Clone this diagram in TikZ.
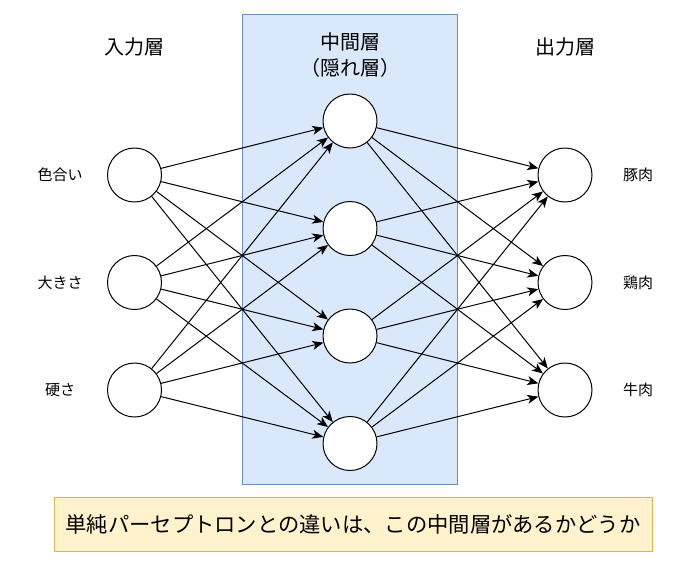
\documentclass[tikz,border=0pt]{standalone}
\usepackage{fontspec}
\setmainfont{Noto Sans CJK JP}
\usetikzlibrary{arrows.meta}
\definecolor{hidfill}{HTML}{DAE8FC}
\definecolor{hiddraw}{HTML}{6C8EBF}
\definecolor{notefill}{HTML}{FFF2CC}
\definecolor{notedraw}{HTML}{D6B656}
\tikzset{
  neuron/.style={circle, draw=black, fill=white, line width=1pt, minimum size=54pt, inner sep=0pt},
  conn/.style={line width=1pt, -{Stealth[length=11pt,width=9pt,inset=3pt]}},
  title/.style={font=\fontsize{20}{24}\selectfont, inner sep=0pt, align=center},
  lab/.style={font=\fontsize{15}{18}\selectfont, inner sep=0pt},
}
\begin{document}
\begin{tikzpicture}[x=1pt,y=-1pt]
\useasboundingbox (0,0) rectangle (700,565);
\node[draw=hiddraw, fill=hidfill, line width=1pt, minimum width=215pt, minimum height=470pt, inner sep=0pt] (hbox) at (349.5,249) {};
\node[draw=notedraw, fill=notefill, line width=1pt, minimum width=598pt, minimum height=54pt, inner sep=0pt,
      font=\fontsize{21.3}{24}\selectfont] (note) at (353,524) {単純パーセプトロンとの違いは、この中間層があるかどうか};
\node[title] (tin) at (134,47) {入力層};
\node[title] (thid) at (350,42) {中間層};
\node[title] (thid2) at (350,68) {（隠れ層）};
\node[title] (tout) at (565,47) {出力層};
\foreach \i/\y in {1/175,2/282.5,3/390} {
  \node[neuron] (i\i) at (134.5,\y) {};
  \node[neuron] (o\i) at (565,\y) {};
}
\foreach \j/\y in {1/121,2/228.5,3/336,4/443.5} {
  \node[neuron] (h\j) at (350,\y) {};
}
\node[lab] (l1) at (60,175) {色合い};
\node[lab] (l2) at (60,282.5) {大きさ};
\node[lab] (l3) at (60,390) {硬さ};
\node[lab] (r1) at (638,175) {豚肉};
\node[lab] (r2) at (638,282.5) {鶏肉};
\node[lab] (r3) at (638,390) {牛肉};
\foreach \i in {1,2,3} {
  \foreach \j in {1,2,3,4} {
    \draw[conn] (i\i) -- (h\j);
    \draw[conn] (h\j) -- (o\i);
  }
}
\end{tikzpicture}
\end{document}
